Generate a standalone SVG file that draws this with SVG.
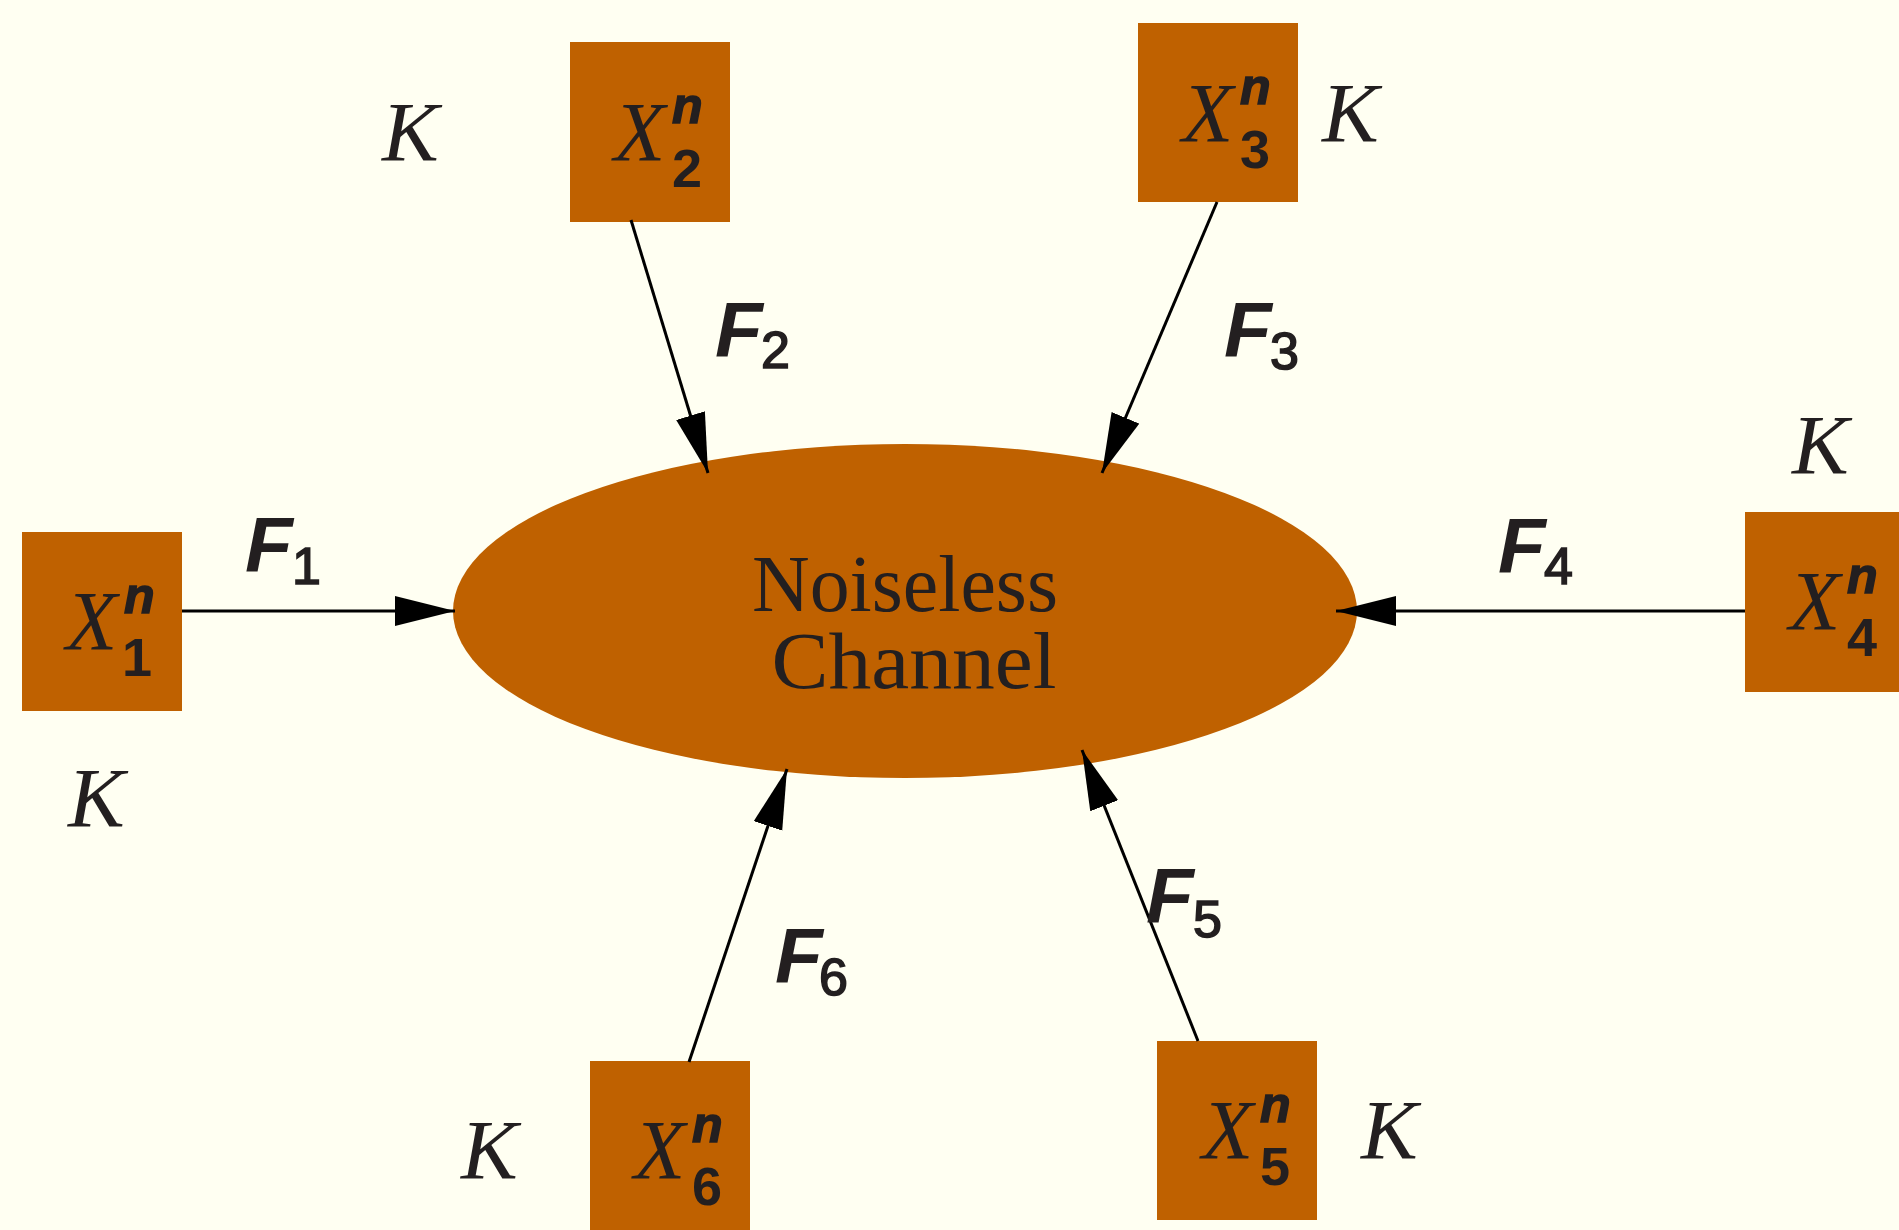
<svg xmlns="http://www.w3.org/2000/svg" width="1899" height="1230" viewBox="0 0 1899 1230">
<style>
.box{fill:#BF6100}
.xl{font-family:"Liberation Serif",serif;font-style:italic;font-size:84px;fill:#231F20}
.sup{font-family:"Liberation Sans",sans-serif;font-style:italic;font-weight:bold;font-size:50px;fill:#231F20;stroke:#231F20;stroke-width:1.5}
.sub{font-family:"Liberation Sans",sans-serif;font-weight:bold;font-size:54px;fill:#231F20}
.k{font-family:"Liberation Serif",serif;font-style:italic;font-size:85px;fill:#231F20}
.f{font-family:"Liberation Sans",sans-serif;font-style:italic;font-weight:bold;font-size:78px;fill:#231F20}
.fs{font-family:"Liberation Sans",sans-serif;font-size:52px;fill:#231F20;stroke:#231F20;stroke-width:1.6}
.ch{font-family:"Liberation Serif",serif;font-size:80px;fill:#231F20}
.conn line{stroke:#000;stroke-width:3;marker-end:url(#ah)}
</style>
<defs>
<marker id="ah" markerUnits="userSpaceOnUse" markerWidth="62" markerHeight="32" refX="60" refY="15" orient="auto">
<path d="M0,0 L60,15 L0,30 Z" fill="#000"/>
</marker>
</defs>
<rect width="1899" height="1230" fill="#FFFFF2"/>
<g id="channel">
<ellipse cx="905" cy="611" rx="452" ry="167" class="box"/>
<text class="ch" text-anchor="middle"><tspan x="905" y="611" textLength="306" lengthAdjust="spacingAndGlyphs">Noiseless</tspan><tspan x="914" y="688" textLength="285" lengthAdjust="spacingAndGlyphs">Channel</tspan></text>
</g>
<g id="x1">
<rect class="box" x="22" y="532" width="160" height="179"/>
<text class="xl" x="66" y="650">X</text><text class="sup" x="124" y="613">n</text><text class="sub" x="122" y="676">1</text>
</g>
<g id="x2">
<rect class="box" x="570" y="42" width="160" height="180"/>
<text class="xl" x="614" y="161">X</text><text class="sup" x="672" y="123">n</text><text class="sub" x="672" y="187">2</text>
</g>
<g id="x3">
<rect class="box" x="1138" y="23" width="160" height="179"/>
<text class="xl" x="1182" y="142">X</text><text class="sup" x="1240" y="104">n</text><text class="sub" x="1240" y="168">3</text>
</g>
<g id="x4">
<rect class="box" x="1745" y="512" width="160" height="180"/>
<text class="xl" x="1789" y="630">X</text><text class="sup" x="1847" y="593">n</text><text class="sub" x="1847" y="656">4</text>
</g>
<g id="x5">
<rect class="box" x="1157" y="1041" width="160" height="179"/>
<text class="xl" x="1202" y="1159">X</text><text class="sup" x="1260" y="1122">n</text><text class="sub" x="1260" y="1185">5</text>
</g>
<g id="x6">
<rect class="box" x="590" y="1061" width="160" height="179"/>
<text class="xl" x="634" y="1179">X</text><text class="sup" x="692" y="1142">n</text><text class="sub" x="692" y="1205">6</text>
</g>
<g id="k-labels">
<text class="k" x="68" y="827">K</text>
<text class="k" x="382" y="161">K</text>
<text class="k" x="1322" y="142">K</text>
<text class="k" x="1792" y="474">K</text>
<text class="k" x="1361" y="1159">K</text>
<text class="k" x="461" y="1179">K</text>
</g>
<g class="conn" id="connectors">
<line x1="182" y1="611" x2="455" y2="611"/>
<line x1="631" y1="220" x2="708" y2="473"/>
<line x1="1217" y1="202" x2="1102" y2="473"/>
<line x1="1745" y1="611" x2="1336" y2="611"/>
<line x1="1198" y1="1041" x2="1082" y2="750"/>
<line x1="689" y1="1062" x2="787" y2="769"/>
</g>
<g id="f-labels">
<text class="f" x="245" y="572">F</text><text class="fs" x="292" y="584">1</text>
<text class="f" x="715" y="357">F</text><text class="fs" x="761" y="368">2</text>
<text class="f" x="1224" y="357">F</text><text class="fs" x="1270" y="369">3</text>
<text class="f" x="1498" y="573">F</text><text class="fs" x="1544" y="584">4</text>
<text class="f" x="1146" y="923">F</text><text class="fs" x="1193" y="937">5</text>
<text class="f" x="775" y="983">F</text><text class="fs" x="819" y="995">6</text>
</g>
</svg>
